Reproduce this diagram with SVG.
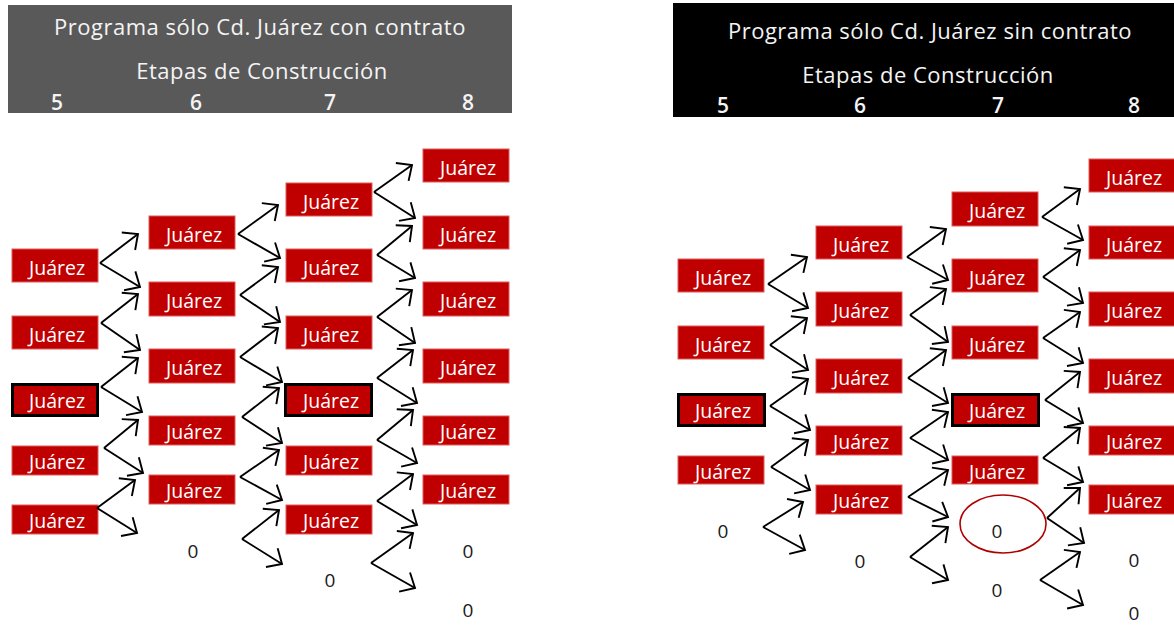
<svg xmlns="http://www.w3.org/2000/svg" width="1174" height="627" viewBox="0 0 1174 627">
<style>
.hd{font-family:"Open Sans","Noto Sans",sans-serif;font-size:22px;letter-spacing:0.5px;fill:#f4f4f4;text-anchor:middle}
.num{font-size:21px;letter-spacing:0;font-weight:600}
.bx{fill:#c00000;stroke:#e05a5a;stroke-width:1}
.bk{fill:#c00000;stroke:#000;stroke-width:3}
.lb{font-family:"Open Sans","Noto Sans",sans-serif;font-size:19.5px;fill:#fff;text-anchor:middle}
.z{font-family:"Open Sans","Noto Sans",sans-serif;font-size:19px;fill:#1a1a1a;text-anchor:middle}
.arr line{stroke:#000;stroke-width:1.9;marker-end:url(#ah)}
</style>
<defs>
<marker id="ah" markerUnits="userSpaceOnUse" viewBox="-15 -14 18 28" refX="0" refY="0" markerWidth="18" markerHeight="28" orient="auto" overflow="visible">
<path d="M-12,-11 L0,0 L-12,11" fill="none" stroke="#000" stroke-width="1.9"/>
</marker>
</defs>
<rect width="1174" height="627" fill="#fff"/>
<g id="header-left">
<rect x="8" y="5" width="504" height="108" fill="#595959"/>
<text class="hd" x="260" y="35">Programa sólo Cd. Juárez con contrato</text>
<text class="hd" x="262" y="79">Etapas de Construcción</text>
<text class="hd num" x="57" y="110">5</text>
<text class="hd num" x="196" y="110">6</text>
<text class="hd num" x="330" y="110">7</text>
<text class="hd num" x="468" y="110">8</text>
</g>
<g id="header-right">
<rect x="673" y="3" width="501" height="114" fill="#000"/>
<text class="hd" x="930" y="39">Programa sólo Cd. Juárez sin contrato</text>
<text class="hd" x="928" y="83">Etapas de Construcción</text>
<text class="hd num" x="723" y="113">5</text>
<text class="hd num" x="860" y="113">6</text>
<text class="hd num" x="998" y="113">7</text>
<text class="hd num" x="1134" y="113">8</text>
</g>
<!-- Left panel nodes -->
<g id="L5a"><rect class="bx" x="12" y="249" width="86" height="33"/><text class="lb" x="57" y="275">Juárez</text></g>
<g id="L5b"><rect class="bx" x="12" y="316" width="86" height="33"/><text class="lb" x="57" y="342">Juárez</text></g>
<g id="L5c"><rect class="bk" x="12.5" y="384.5" width="85" height="31"/><text class="lb" x="57" y="408">Juárez</text></g>
<g id="L5d"><rect class="bx" x="12" y="446" width="86" height="29"/><text class="lb" x="57" y="469">Juárez</text></g>
<g id="L5e"><rect class="bx" x="12" y="505" width="86" height="29"/><text class="lb" x="57" y="528">Juárez</text></g>
<g id="L6a"><rect class="bx" x="149" y="216" width="86" height="33"/><text class="lb" x="194" y="242">Juárez</text></g>
<g id="L6b"><rect class="bx" x="149" y="282" width="86" height="34"/><text class="lb" x="194" y="308">Juárez</text></g>
<g id="L6c"><rect class="bx" x="149" y="349" width="86" height="34"/><text class="lb" x="194" y="375">Juárez</text></g>
<g id="L6d"><rect class="bx" x="149" y="416" width="86" height="29"/><text class="lb" x="194" y="439">Juárez</text></g>
<g id="L6e"><rect class="bx" x="149" y="475" width="86" height="29"/><text class="lb" x="194" y="498">Juárez</text></g>
<g id="L6z"><text class="z" x="193" y="558">0</text></g>
<g id="L7a"><rect class="bx" x="286" y="183" width="86" height="33"/><text class="lb" x="331" y="209">Juárez</text></g>
<g id="L7b"><rect class="bx" x="286" y="249" width="86" height="33"/><text class="lb" x="331" y="275">Juárez</text></g>
<g id="L7c"><rect class="bx" x="286" y="316" width="86" height="33"/><text class="lb" x="331" y="342">Juárez</text></g>
<g id="L7d"><rect class="bk" x="285.5" y="384.5" width="86" height="31"/><text class="lb" x="331" y="408">Juárez</text></g>
<g id="L7e"><rect class="bx" x="286" y="446" width="86" height="29"/><text class="lb" x="331" y="469">Juárez</text></g>
<g id="L7f"><rect class="bx" x="286" y="505" width="86" height="29"/><text class="lb" x="331" y="528">Juárez</text></g>
<g id="L7z"><text class="z" x="330" y="587">0</text></g>
<g id="L8a"><rect class="bx" x="423" y="149" width="86" height="33"/><text class="lb" x="468" y="175">Juárez</text></g>
<g id="L8b"><rect class="bx" x="423" y="216" width="86" height="33"/><text class="lb" x="468" y="242">Juárez</text></g>
<g id="L8c"><rect class="bx" x="423" y="282" width="86" height="34"/><text class="lb" x="468" y="308">Juárez</text></g>
<g id="L8d"><rect class="bx" x="423" y="349" width="86" height="34"/><text class="lb" x="468" y="375">Juárez</text></g>
<g id="L8e"><rect class="bx" x="423" y="416" width="86" height="29"/><text class="lb" x="468" y="439">Juárez</text></g>
<g id="L8f"><rect class="bx" x="423" y="475" width="86" height="29"/><text class="lb" x="468" y="498">Juárez</text></g>
<g id="L8z1"><text class="z" x="468" y="558">0</text></g>
<g id="L8z2"><text class="z" x="468" y="617">0</text></g>
<!-- Right panel nodes -->
<g id="R5a"><rect class="bx" x="678" y="259" width="86" height="33"/><text class="lb" x="723" y="285">Juárez</text></g>
<g id="R5b"><rect class="bx" x="678" y="326" width="86" height="33"/><text class="lb" x="723" y="352">Juárez</text></g>
<g id="R5c"><rect class="bk" x="678.5" y="394.5" width="86" height="31"/><text class="lb" x="723" y="418">Juárez</text></g>
<g id="R5d"><rect class="bx" x="678" y="456" width="86" height="28"/><text class="lb" x="723" y="479">Juárez</text></g>
<g id="R5z"><text class="z" x="723" y="538">0</text></g>
<g id="R6a"><rect class="bx" x="816" y="226" width="86" height="33"/><text class="lb" x="861" y="252">Juárez</text></g>
<g id="R6b"><rect class="bx" x="816" y="292" width="86" height="34"/><text class="lb" x="861" y="318">Juárez</text></g>
<g id="R6c"><rect class="bx" x="816" y="359" width="86" height="34"/><text class="lb" x="861" y="385">Juárez</text></g>
<g id="R6d"><rect class="bx" x="816" y="426" width="86" height="29"/><text class="lb" x="861" y="449">Juárez</text></g>
<g id="R6e"><rect class="bx" x="816" y="485" width="86" height="29"/><text class="lb" x="861" y="508">Juárez</text></g>
<g id="R6z"><text class="z" x="860" y="568">0</text></g>
<g id="R7a"><rect class="bx" x="952" y="192" width="86" height="34"/><text class="lb" x="997" y="218">Juárez</text></g>
<g id="R7b"><rect class="bx" x="952" y="259" width="86" height="33"/><text class="lb" x="997" y="285">Juárez</text></g>
<g id="R7c"><rect class="bx" x="952" y="326" width="86" height="33"/><text class="lb" x="997" y="352">Juárez</text></g>
<g id="R7d"><rect class="bk" x="952.5" y="394.5" width="86" height="31"/><text class="lb" x="997" y="418">Juárez</text></g>
<g id="R7e"><rect class="bx" x="952" y="456" width="86" height="28"/><text class="lb" x="997" y="479">Juárez</text></g>
<g id="R7z1"><ellipse cx="1003" cy="524" rx="43" ry="29" fill="none" stroke="#b00000" stroke-width="1.6"/><text class="z" x="997" y="538">0</text></g>
<g id="R7z2"><text class="z" x="997" y="597">0</text></g>
<g id="R8a"><rect class="bx" x="1089" y="159" width="86" height="33"/><text class="lb" x="1134" y="185">Juárez</text></g>
<g id="R8b"><rect class="bx" x="1089" y="226" width="86" height="33"/><text class="lb" x="1134" y="252">Juárez</text></g>
<g id="R8c"><rect class="bx" x="1089" y="292" width="86" height="34"/><text class="lb" x="1134" y="318">Juárez</text></g>
<g id="R8d"><rect class="bx" x="1089" y="359" width="86" height="34"/><text class="lb" x="1134" y="385">Juárez</text></g>
<g id="R8e"><rect class="bx" x="1089" y="426" width="86" height="29"/><text class="lb" x="1134" y="449">Juárez</text></g>
<g id="R8f"><rect class="bx" x="1089" y="485" width="86" height="29"/><text class="lb" x="1134" y="508">Juárez</text></g>
<g id="R8z1"><text class="z" x="1134" y="567">0</text></g>
<g id="R8z2"><text class="z" x="1134" y="620">0</text></g>
<g id="connectors" class="arr">
<line x1="100" y1="263" x2="138" y2="234"/><line x1="100" y1="263" x2="140" y2="287"/>
<line x1="101" y1="323" x2="138" y2="294"/><line x1="101" y1="323" x2="140" y2="350"/>
<line x1="101" y1="387" x2="138" y2="358"/><line x1="101" y1="387" x2="142" y2="412"/>
<line x1="104" y1="448" x2="138" y2="420"/><line x1="104" y1="448" x2="143" y2="473"/>
<line x1="97" y1="508" x2="135" y2="480"/><line x1="97" y1="508" x2="137" y2="533"/>
<line x1="238" y1="234" x2="278" y2="205"/><line x1="238" y1="234" x2="280" y2="258"/>
<line x1="240" y1="295" x2="278" y2="267"/><line x1="240" y1="295" x2="280" y2="322"/>
<line x1="240" y1="357" x2="278" y2="328"/><line x1="240" y1="357" x2="282" y2="382"/>
<line x1="242" y1="417" x2="279" y2="388"/><line x1="242" y1="417" x2="282" y2="443"/>
<line x1="240" y1="477" x2="279" y2="450"/><line x1="240" y1="477" x2="282" y2="500"/>
<line x1="242" y1="539" x2="279" y2="510"/><line x1="242" y1="539" x2="282" y2="564"/>
<line x1="374" y1="192" x2="412" y2="165"/><line x1="374" y1="192" x2="415" y2="218"/>
<line x1="377" y1="255" x2="412" y2="226"/><line x1="377" y1="255" x2="415" y2="278"/>
<line x1="377" y1="317" x2="412" y2="290"/><line x1="377" y1="317" x2="415" y2="343"/>
<line x1="377" y1="378" x2="413" y2="350"/><line x1="377" y1="378" x2="417" y2="403"/>
<line x1="377" y1="440" x2="413" y2="410"/><line x1="377" y1="440" x2="417" y2="463"/>
<line x1="377" y1="501" x2="413" y2="474"/><line x1="377" y1="501" x2="417" y2="525"/>
<line x1="371" y1="563" x2="413" y2="533"/><line x1="371" y1="563" x2="415" y2="588"/>
<line x1="768" y1="284" x2="807" y2="257"/><line x1="768" y1="284" x2="808" y2="308"/>
<line x1="770" y1="345" x2="807" y2="318"/><line x1="770" y1="345" x2="808" y2="370"/>
<line x1="770" y1="406" x2="808" y2="379"/><line x1="770" y1="406" x2="810" y2="430"/>
<line x1="771" y1="467" x2="808" y2="440"/><line x1="771" y1="467" x2="810" y2="490"/>
<line x1="763" y1="527" x2="803" y2="502"/><line x1="763" y1="527" x2="805" y2="550"/>
<line x1="907" y1="257" x2="946" y2="229"/><line x1="907" y1="257" x2="948" y2="280"/>
<line x1="910" y1="315" x2="946" y2="289"/><line x1="910" y1="315" x2="948" y2="342"/>
<line x1="908" y1="378" x2="946" y2="350"/><line x1="908" y1="378" x2="948" y2="403"/>
<line x1="910" y1="438" x2="948" y2="412"/><line x1="910" y1="438" x2="948" y2="460"/>
<line x1="908" y1="497" x2="948" y2="470"/><line x1="908" y1="497" x2="948" y2="517"/>
<line x1="910" y1="557" x2="948" y2="527"/><line x1="910" y1="557" x2="948" y2="580"/>
<line x1="1042" y1="217" x2="1080" y2="189"/><line x1="1042" y1="217" x2="1083" y2="240"/>
<line x1="1043" y1="277" x2="1080" y2="250"/><line x1="1043" y1="277" x2="1083" y2="303"/>
<line x1="1043" y1="338" x2="1080" y2="312"/><line x1="1043" y1="338" x2="1083" y2="363"/>
<line x1="1045" y1="400" x2="1080" y2="372"/><line x1="1045" y1="400" x2="1083" y2="423"/>
<line x1="1043" y1="458" x2="1080" y2="428"/><line x1="1043" y1="458" x2="1083" y2="482"/>
<line x1="1047" y1="518" x2="1080" y2="488"/><line x1="1047" y1="518" x2="1084" y2="543"/>
<line x1="1040" y1="580" x2="1080" y2="552"/><line x1="1040" y1="580" x2="1083" y2="605"/>
</g>
</svg>
